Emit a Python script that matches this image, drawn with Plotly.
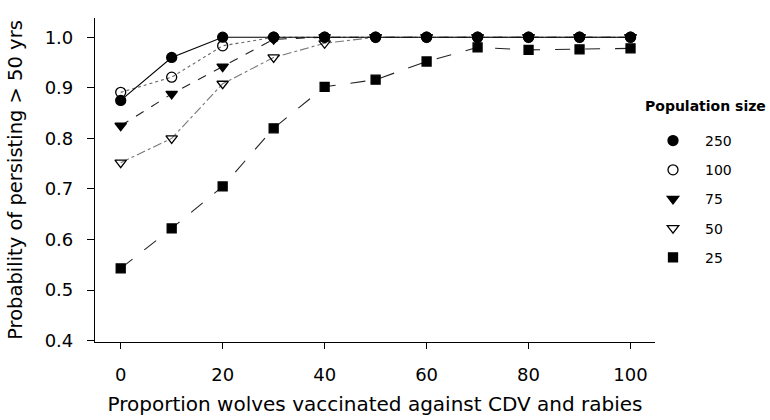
import plotly.graph_objects as go

# Data
vaccinated = [0, 10, 20, 30, 40, 50, 60, 70, 80, 90, 100]
pop_labels = ["250", "100", "75", "50", "25"]
p250 = [0.875, 0.960, 1.0, 1.0, 1.0, 1.0, 1.0, 1.0, 1.0, 1.0, 1.0]
p100 = [0.891, 0.921, 0.983, 1.0, 1.0, 1.0, 1.0, 1.0, 1.0, 1.0, 1.0]
p75 = [0.825, 0.888, 0.942, 0.996, 1.0, 1.0, 1.0, 1.0, 1.0, 1.0, 1.0]
p50 = [0.752, 0.800, 0.908, 0.960, 0.988, 1.0, 1.0, 1.0, 1.0, 1.0, 1.0]
p25 = [0.543, 0.622, 0.705, 0.820, 0.902, 0.916, 0.952, 0.980, 0.975, 0.976, 0.978]
y_ticks = [0.4, 0.5, 0.6, 0.7, 0.8, 0.9, 1.0]
x_ticks = [0, 20, 40, 60, 80, 100]

series = [p250, p100, p75, p50, p25]
symbols = ["circle", "circle-open", "triangle-down", "triangle-down-open", "square"]
dashes = ["solid", "dot", "dash", "dashdot", "longdash"]
line_colors = ["#000000", "#666666", "#222222", "#777777", "#222222"]
msizes = [10, 10, 10, 10, 9]

FONT = "DejaVu Sans, Verdana, sans-serif"

fig = go.Figure()
# draw from last to first so the 250 line is on top
for i in reversed(range(len(series))):
    fig.add_trace(go.Scatter(
        x=vaccinated, y=series[i], mode="lines+markers",
        line=dict(color=line_colors[i], width=1.1, dash=dashes[i]),
        marker=dict(symbol=symbols[i], size=msizes[i], color="#000000",
                    line=dict(color="#000000", width=1.3)),
        showlegend=False, cliponaxis=False,
    ))
# legend-only marker entries
for i in range(len(series)):
    fig.add_trace(go.Scatter(
        x=[None], y=[None], mode="markers", name=pop_labels[i],
        marker=dict(symbol=symbols[i], size=msizes[i], color="#000000",
                    line=dict(color="#000000", width=1.3)),
        legendgroup=pop_labels[i], showlegend=True,
    ))

fig.update_layout(
    width=770, height=420,
    margin=dict(l=95, r=115, t=18, b=78, autoexpand=False),
    paper_bgcolor="white", plot_bgcolor="white",
    font=dict(family=FONT, color="#000000"),
    xaxis=dict(
        range=[-5.04, 104.8], tickvals=x_ticks, ticktext=[str(v) for v in x_ticks],
        showline=True, linecolor="#000000", linewidth=1.2,
        ticks="outside", ticklen=6, tickcolor="#000000", tickwidth=1,
        showgrid=False, zeroline=False, automargin=False,
        tickfont=dict(size=18), ticklabelstandoff=10,
        title=dict(text="Proportion wolves vaccinated against CDV and rabies",
                   font=dict(size=20), standoff=13),
    ),
    yaxis=dict(
        range=[0.3975, 1.038], tickvals=y_ticks, ticktext=[f"{v:.1f}" for v in y_ticks],
        showline=True, linecolor="#000000", linewidth=1.2,
        ticks="outside", ticklen=7, tickcolor="#000000", tickwidth=1,
        showgrid=False, zeroline=False, automargin=False,
        tickfont=dict(size=18), ticklabelstandoff=10,
        title=dict(text="Probability of persisting > 50 yrs", font=dict(size=19.5), standoff=16),
    ),
    legend=dict(
        x=(641 - 95) / 560, xanchor="left", y=(342 - 125) / 324, yanchor="top",
        font=dict(size=14), traceorder="grouped", tracegroupgap=8,
        itemwidth=54, bgcolor="rgba(0,0,0,0)",
    ),
    annotations=[dict(
        text="<b>Population size</b>", xref="paper", yref="paper",
        x=(643 - 95) / 560, y=(342 - 106) / 324, xanchor="left", yanchor="middle",
        showarrow=False, font=dict(size=14),
    )],
)

fig.write_html("out.html")
